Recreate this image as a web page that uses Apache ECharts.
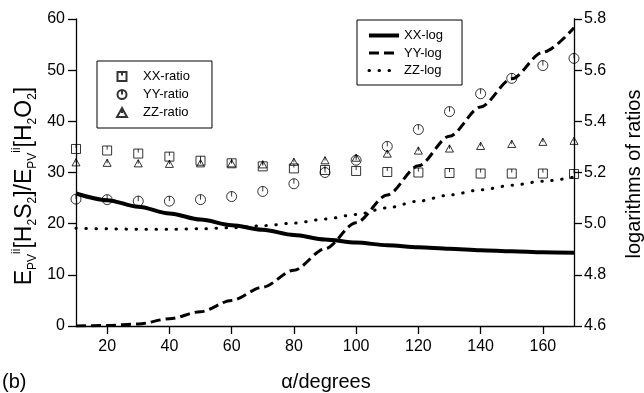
<!DOCTYPE html>
<html>
<head>
<meta charset="utf-8">
<script src="https://cdn.jsdelivr.net/npm/echarts@6/dist/echarts.min.js"></script>
<style>
  html, body { margin: 0; padding: 0; background: #fff; }
  #chart { width: 644px; height: 393px; }
</style>
</head>
<body>
<div id="chart"></div>
<script>
// Angle alpha (degrees) at which every quantity is sampled
const angles = [10, 20, 30, 40, 50, 60, 70, 80, 90, 100, 110, 120, 130, 140, 150, 160, 170];

// Ratios (left axis)
const xxRatio = [34.6, 34.3, 33.7, 33.1, 32.3, 31.8, 31.2, 30.8, 30.5, 30.3, 30.1, 30.0, 29.9, 29.8, 29.8, 29.8, 29.7];
const yyRatio = [24.8, 24.7, 24.4, 24.4, 24.7, 25.3, 26.3, 27.8, 30.0, 32.4, 35.1, 38.4, 41.9, 45.4, 48.4, 50.9, 52.3];
const zzRatio = [32.0, 31.9, 31.8, 31.7, 31.8, 31.8, 31.6, 32.1, 32.4, 32.9, 33.7, 34.3, 34.7, 35.2, 35.6, 36.0, 36.2];

// Logarithms of ratios (right axis)
const xxLog = [5.118, 5.092, 5.066, 5.040, 5.016, 4.994, 4.976, 4.956, 4.938, 4.926, 4.916, 4.908, 4.902, 4.896, 4.892, 4.888, 4.886];
const yyLog = [4.600, 4.602, 4.608, 4.628, 4.656, 4.700, 4.752, 4.818, 4.902, 5.004, 5.112, 5.226, 5.342, 5.456, 5.566, 5.670, 5.766];
const zzLog = [4.982, 4.980, 4.978, 4.978, 4.980, 4.984, 4.992, 5.002, 5.018, 5.036, 5.062, 5.088, 5.112, 5.132, 5.150, 5.166, 5.182];

// Tick positions
const xTicks = [20, 40, 60, 80, 100, 120, 140, 160];
const leftTicks = { min: 0, max: 60, step: 10 };
const rightTicks = { min: 4.6, max: 5.8, step: 0.2 };

const FONT = '"Liberation Sans", Arial, Helvetica, sans-serif';
const INK = '#000';

// Open markers with a short stroke from the top toward the centre
const SYM_SQUARE = 'path://M0,0L10,0L10,10L0,10ZM5,0L5,4';
const SYM_CIRCLE = 'path://M10,5A5,5,0,1,1,0,5A5,5,0,1,1,10,5ZM5,0L5,5';
const SYM_TRIANGLE = 'path://M5,0L10,9L0,9ZM5,0L5,5';

// Stroke styles of the three log curves (shared by series and legend)
const SOLID = { width: 4, type: 'solid' };
const DASHED = { width: 3, type: [10, 5] };
const DOTTED = { width: 3, type: [0.5, 9.5], cap: 'round' };

const pairs = (ys) => angles.map((a, i) => [a, ys[i]]);

const axisLineStyle = { color: INK, width: 1.3 };
const labelStyle = { color: INK, fontSize: 16, fontFamily: FONT };

function scatter(name, ys, symbol, size) {
  return {
    name, type: 'scatter', yAxisIndex: 0, data: pairs(ys),
    symbol, symbolSize: size, symbolKeepAspect: true,
    itemStyle: { color: 'rgba(0,0,0,0)', borderColor: INK, borderWidth: 1 },
    z: 3
  };
}

function curve(name, ys, lineStyle) {
  return {
    name, type: 'line', yAxisIndex: 1, data: pairs(ys),
    symbol: 'none', smooth: 0.3, smoothMonotone: 'x',
    lineStyle: Object.assign({ color: INK }, lineStyle),
    itemStyle: { color: INK },
    z: 2
  };
}

const chart = echarts.init(document.getElementById('chart'), null, { renderer: 'canvas' });

chart.setOption({
  animation: false,
  backgroundColor: '#fff',
  grid: { left: 76, right: 70, top: 19, bottom: 67, containLabel: false },
  xAxis: {
    type: 'value', min: 10, max: 170,
    axisLine: { show: true, onZero: false, lineStyle: axisLineStyle },
    axisTick: { show: true, customValues: xTicks, length: 8, lineStyle: axisLineStyle },
    axisLabel: Object.assign({ customValues: xTicks, margin: 13 }, labelStyle),
    splitLine: { show: false }
  },
  yAxis: [
    {
      type: 'value', position: 'left',
      min: leftTicks.min, max: leftTicks.max, interval: leftTicks.step,
      axisLine: { show: true, lineStyle: axisLineStyle },
      axisTick: { show: true, length: 8, lineStyle: axisLineStyle },
      axisLabel: Object.assign({ margin: 11 }, labelStyle),
      splitLine: { show: false }
    },
    {
      type: 'value', position: 'right',
      min: rightTicks.min, max: rightTicks.max, interval: rightTicks.step,
      axisLine: { show: true, lineStyle: axisLineStyle },
      axisTick: { show: true, length: 8, lineStyle: axisLineStyle },
      axisLabel: Object.assign({ margin: 10, formatter: (v) => v.toFixed(1) }, labelStyle),
      splitLine: { show: false }
    }
  ],
  legend: [
    {
      data: ['XX-ratio', 'YY-ratio', 'ZZ-ratio'],
      orient: 'vertical', left: 97, top: 61,
      padding: [9, 22, 9, 19],
      itemWidth: 32, itemHeight: 9, itemGap: 5,
      borderColor: INK, borderWidth: 1, borderRadius: 0,
      selectedMode: false,
      textStyle: { color: INK, fontSize: 13, fontFamily: FONT }
    },
    {
      data: [
        { name: 'XX-log', lineStyle: Object.assign({ color: INK }, SOLID) },
        { name: 'YY-log', lineStyle: Object.assign({ color: INK }, DASHED) },
        { name: 'ZZ-log', lineStyle: Object.assign({ color: INK }, DOTTED) }
      ],
      orient: 'vertical', left: 357, top: 20,
      padding: [9, 19, 8, 10],
      itemWidth: 30, itemHeight: 14, itemGap: 4.5,
      borderColor: INK, borderWidth: 1, borderRadius: 0,
      selectedMode: false,
      itemStyle: { color: 'rgba(0,0,0,0)', borderColor: 'rgba(0,0,0,0)', borderWidth: 0 },
      textStyle: { color: INK, fontSize: 13, fontFamily: FONT }
    }
  ],
  graphic: [
    {
      type: 'text', x: 25, y: 186, rotation: Math.PI / 2,
      style: {
        text: '{b|E}{s|PV}{p|ii}{b|[H}{s|2}{b|S}{s|2}{b|]/E}{s|PV}{p|ii}{b|[H}{s|2}{b|O}{s|2}{b|]}',
        align: 'center', verticalAlign: 'middle', fill: INK,
        rich: {
          b: { fontSize: 23, fontFamily: FONT, lineHeight: 28, fill: INK },
          s: { fontSize: 12, fontFamily: FONT, lineHeight: 14, verticalAlign: 'bottom', fill: INK },
          p: { fontSize: 12, fontFamily: FONT, lineHeight: 14, verticalAlign: 'top', fill: INK }
        }
      }
    },
    {
      type: 'text', x: 634, y: 174, rotation: Math.PI / 2,
      style: { text: 'logarithms of ratios', font: '20px ' + FONT, fill: INK, align: 'center', verticalAlign: 'middle' }
    },
    {
      type: 'text', x: 326, y: 382,
      style: { text: 'α/degrees', font: '20px ' + FONT, fill: INK, align: 'center', verticalAlign: 'middle' }
    },
    {
      type: 'text', x: 2, y: 382,
      style: { text: '(b)', font: '20px ' + FONT, fill: INK, align: 'left', verticalAlign: 'middle' }
    }
  ],
  series: [
    scatter('XX-ratio', xxRatio, SYM_SQUARE, 9),
    scatter('YY-ratio', yyRatio, SYM_CIRCLE, 10),
    scatter('ZZ-ratio', zzRatio, SYM_TRIANGLE, 8),
    curve('XX-log', xxLog, SOLID),
    curve('YY-log', yyLog, DASHED),
    curve('ZZ-log', zzLog, DOTTED)
  ]
});
</script>
</body>
</html>
